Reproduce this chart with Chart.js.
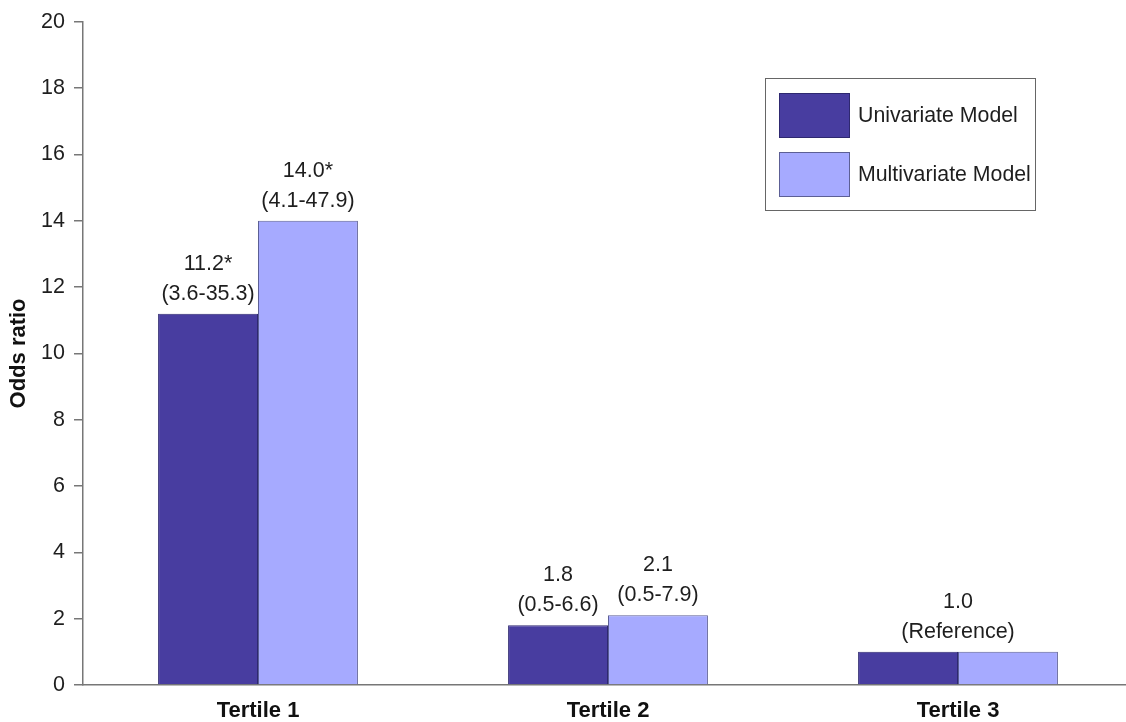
<!DOCTYPE html>
<html>
<head>
<meta charset="utf-8">
<title>Odds ratio by tertile</title>
<script src="https://cdn.jsdelivr.net/npm/chart.js@4/dist/chart.umd.min.js"></script>
<style>
  html, body { margin: 0; padding: 0; background: #fff; overflow: hidden; }
  #wrap { width: 1133px; height: 722px; }
</style>
</head>
<body>
<div id="wrap"><canvas id="chart" width="1133" height="722"></canvas></div>
<script>
// Categories and odds ratios with 95% confidence intervals
const categories = ['Tertile 1', 'Tertile 2', 'Tertile 3'];
const univariate = [11.2, 1.8, 1.0];
const multivariate = [14.0, 2.1, 1.0];
const univariateCI = ['(3.6-35.3)', '(0.5-6.6)', ''];
const multivariateCI = ['(4.1-47.9)', '(0.5-7.9)', ''];
const significant = [true, false, false];
const referenceIndex = 2;
const referenceText = '(Reference)';
const yTicks = [0, 2, 4, 6, 8, 10, 12, 14, 16, 18, 20];

const FONT = "'Liberation Sans', Arial, Helvetica, sans-serif";
const DARK = '#483DA0';
const LIGHT = '#A6AAFF';

// Value + CI labels above each bar; the reference category gets one shared label
const barLabels = {
  id: 'barLabels',
  afterDatasetsDraw(chart) {
    const ctx = chart.ctx;
    ctx.save();
    ctx.font = '21.5px ' + FONT;
    ctx.fillStyle = '#1e1e1e';
    ctx.textAlign = 'center';
    ctx.textBaseline = 'middle';
    const series = [
      { values: univariate, ci: univariateCI },
      { values: multivariate, ci: multivariateCI }
    ];
    categories.forEach((cat, i) => {
      if (i === referenceIndex) {
        const a = chart.getDatasetMeta(0).data[i];
        const b = chart.getDatasetMeta(1).data[i];
        const x = (a.x + b.x) / 2;
        const top = Math.min(a.y, b.y);
        ctx.fillText(univariate[i].toFixed(1), x, top - 50);
        ctx.fillText(referenceText, x, top - 20);
        return;
      }
      series.forEach((s, d) => {
        const bar = chart.getDatasetMeta(d).data[i];
        const txt = s.values[i].toFixed(1) + (significant[i] ? '*' : '');
        ctx.fillText(txt, bar.x, bar.y - 50);
        ctx.fillText(s.ci[i], bar.x, bar.y - 20);
      });
    });
    ctx.restore();
  }
};

// Boxed legend in the upper right of the plot
const boxLegend = {
  id: 'boxLegend',
  afterDraw(chart) {
    const ctx = chart.ctx;
    ctx.save();
    ctx.strokeStyle = '#666';
    ctx.lineWidth = 1;
    ctx.strokeRect(765.5, 78.5, 270, 132);
    ctx.font = '21.3px ' + FONT;
    ctx.textAlign = 'left';
    ctx.textBaseline = 'middle';
    chart.data.datasets.forEach((ds, k) => {
      const y = 93 + k * 59;
      ctx.fillStyle = ds.backgroundColor;
      ctx.fillRect(779, y, 71, 45);
      ctx.strokeStyle = ds.borderColor;
      ctx.strokeRect(779.5, y + 0.5, 70, 44);
      ctx.fillStyle = '#1e1e1e';
      ctx.fillText(ds.label, 858, y + 23);
    });
    ctx.restore();
  }
};

new Chart(document.getElementById('chart'), {
  type: 'bar',
  data: {
    labels: categories,
    datasets: [
      {
        label: 'Univariate Model',
        data: univariate,
        backgroundColor: DARK,
        borderColor: '#2E2870',
        borderWidth: 1,
        borderSkipped: 'bottom'
      },
      {
        label: 'Multivariate Model',
        data: multivariate,
        backgroundColor: LIGHT,
        borderColor: '#5C5F95',
        borderWidth: 1,
        borderSkipped: 'bottom'
      }
    ]
  },
  options: {
    responsive: false,
    devicePixelRatio: 1,
    animation: false,
    layout: { padding: { top: 20, right: 0, bottom: 0, left: 0 } },
    categoryPercentage: 0.571,
    barPercentage: 1.0,
    plugins: {
      legend: { display: false },
      tooltip: { enabled: false }
    },
    scales: {
      x: {
        grid: { display: false, drawTicks: false },
        border: { display: true, color: '#777', width: 1.5 },
        ticks: {
          color: '#111',
          padding: 13,
          font: { family: FONT, size: 22, weight: 'bold' }
        },
        afterFit(scale) { scale.height = 37; }
      },
      y: {
        min: 0,
        max: 20,
        afterBuildTicks(scale) { scale.ticks = yTicks.map(v => ({ value: v })); },
        grid: { drawOnChartArea: false, drawTicks: true, tickLength: 9, color: '#777', lineWidth: 1.5 },
        border: { display: true, color: '#777', width: 1.5 },
        ticks: {
          color: '#1e1e1e',
          padding: 9,
          font: { family: FONT, size: 21.5 }
        },
        title: {
          display: true,
          text: 'Odds ratio',
          color: '#111',
          padding: { top: 6, bottom: 0 },
          font: { family: FONT, size: 22, weight: 'bold' }
        },
        afterFit(scale) { scale.width = 83; }
      }
    }
  },
  plugins: [barLabels, boxLegend]
});
</script>
</body>
</html>
